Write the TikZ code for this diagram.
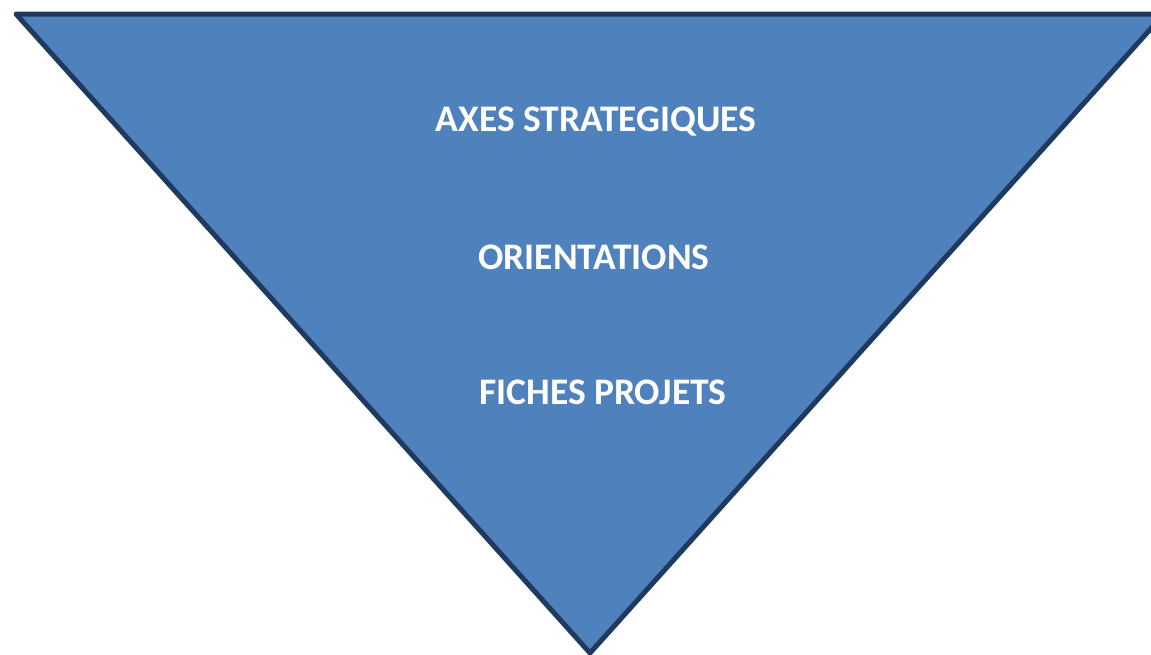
\documentclass[tikz,border=0pt]{standalone}
\usepackage{fontspec}
\setmainfont{Carlito}
\definecolor{fillblue}{HTML}{4F81BD}
\definecolor{edgeblue}{HTML}{1F3A5F}
\begin{document}
\begin{tikzpicture}[x=1pt,y=-1pt,
  lbl/.style={text=white,font=\fontsize{37.5}{42}\selectfont\bfseries,inner sep=0pt,anchor=center}]
\useasboundingbox (0,0) rectangle (1151,654);
\clip (0,0) rectangle (1151,654);
\draw[fill=fillblue,draw=edgeblue,line width=5pt,line join=round] (16,14) -- (1164,14) -- (590,653) -- cycle;
\node[lbl] (axes) at (596,122) {AXES STRATEGIQUES};
\node[lbl] (orient) at (594,257) {ORIENTATIONS};
\node[lbl] (fiches) at (603,392) {FICHES PROJETS};
\end{tikzpicture}
\end{document}
